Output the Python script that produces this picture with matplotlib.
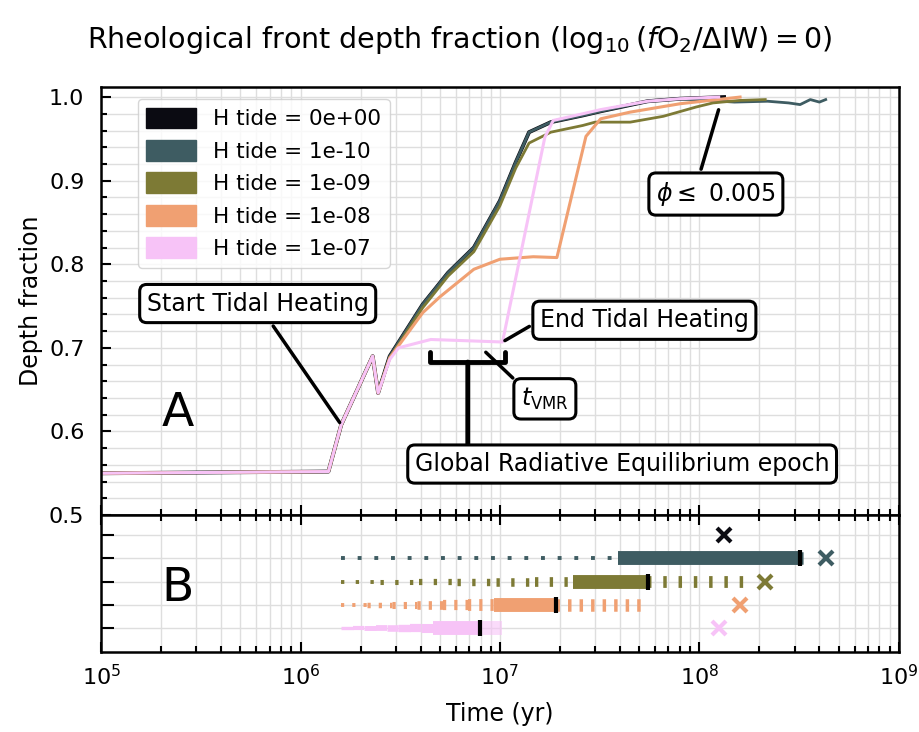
import numpy as np
import matplotlib
matplotlib.use('Agg')
import matplotlib.pyplot as plt
from matplotlib.patches import Patch
from matplotlib.ticker import MultipleLocator, NullFormatter

plt.rcParams['font.family'] = ['DejaVu Sans']
plt.rcParams['lines.scale_dashes'] = False
plt.rcParams['xtick.labelsize'] = 16
plt.rcParams['ytick.labelsize'] = 16

# --- data -----------------------------------------------------------------
labels = ['H tide = 0e+00', 'H tide = 1e-10', 'H tide = 1e-09', 'H tide = 1e-08', 'H tide = 1e-07']
colors = ['#0b0b12', '#3e5c62', '#7d7a35', '#f0a072', '#f7c3f7']

t_h0 = [1e5, 1.38e6, 1.6e6, 2.3e6, 2.45e6, 2.8e6, 4.1e6, 5.5e6, 7.4e6, 1.0e7, 1.2e7,
        1.4e7, 1.8e7, 2.6e7, 3.2e7, 5.5e7, 8.0e7, 1.33e8]
d_h0 = [0.55, 0.552, 0.608, 0.69, 0.646, 0.69, 0.752, 0.79, 0.82, 0.876, 0.922,
        0.958, 0.970, 0.978, 0.983, 0.995, 0.998, 1.0]

t_h10 = t_h0[:-1] + [1.5e8, 2.2e8, 2.8e8, 3.2e8, 3.6e8, 4.0e8, 4.3e8]
d_h10 = d_h0[:-1] + [0.994, 0.995, 0.993, 0.991, 0.997, 0.994, 0.997]

t_h9 = [1e5, 1.38e6, 1.6e6, 2.3e6, 2.45e6, 2.8e6, 4.1e6, 5.5e6, 7.4e6, 1.0e7, 1.2e7,
        1.4e7, 1.8e7, 2.6e7, 3.0e7, 4.5e7, 6.6e7, 9.6e7, 1.17e8, 1.6e8, 2.14e8]
d_h9 = [0.55, 0.552, 0.608, 0.69, 0.646, 0.688, 0.748, 0.786, 0.815, 0.87, 0.915,
        0.945, 0.958, 0.966, 0.970, 0.970, 0.977, 0.988, 0.993, 0.996, 0.997]

t_h8 = [1e5, 1.38e6, 1.6e6, 2.3e6, 2.45e6, 2.8e6, 4.1e6, 5.0e6, 7.4e6, 1.0e7, 1.47e7,
        1.93e7, 2.7e7, 3.2e7, 4.5e7, 8.0e7, 1.6e8]
d_h8 = [0.55, 0.552, 0.608, 0.69, 0.646, 0.688, 0.742, 0.761, 0.794, 0.806, 0.809,
        0.808, 0.953, 0.974, 0.982, 0.992, 1.0]

t_h7 = [1e5, 1.38e6, 1.6e6, 2.3e6, 2.45e6, 2.8e6, 3.1e6, 4.5e6, 1.03e7, 1.68e7, 1.85e7,
        2.6e7, 3.2e7, 5.5e7, 8.0e7, 1.25e8]
d_h7 = [0.55, 0.552, 0.608, 0.69, 0.646, 0.686, 0.700, 0.710, 0.707, 0.952, 0.972,
        0.980, 0.985, 0.995, 0.998, 1.0]

curves_t = [t_h0, t_h10, t_h9, t_h8, t_h7]
curves_d = [d_h0, d_h10, d_h9, d_h8, d_h7]

# panel B: rows for 1e-10, 1e-09, 1e-08, 1e-07
row_pos = [3, 2, 1, 0]
row_colors = colors[1:]
tidal_start = [1.6e6, 1.6e6, 1.6e6, 1.6e6]
gre_start = [3.9e7, 2.33e7, 9.3e6, 4.6e6]
t_vmr = [3.2e8, 5.5e7, 1.9e7, 7.9e6]
post_end = [3.45e8, 1.78e8, 5.3e7, 1.02e7]
end_time = [1.33e8, 4.3e8, 2.14e8, 1.6e8, 1.25e8]   # all five runs
end_pos = [4, 3, 2, 1, 0]

# --- figure ---------------------------------------------------------------
fig = plt.figure(figsize=(9.19, 7.32), dpi=100)
ax1 = fig.add_axes([0.110, 0.2964, 0.868, 0.5847])
ax2 = fig.add_axes([0.110, 0.1093, 0.868, 0.1871], sharex=ax1)

for ax in (ax1, ax2):
    ax.set_xscale('log')
    ax.set_xlim(1e5, 1e9)
    for s in ax.spines.values():
        s.set_linewidth(1.8)
    ax.grid(True, which='both', color='#dedede', lw=1.0)
    ax.set_axisbelow(True)

# top panel curves
for t, d, c, lw in zip(curves_t, curves_d, colors, [2.8, 2.0, 2.0, 2.2, 2.2]):
    ax1.plot(t, d, color=c, lw=lw)

ax1.set_ylim(0.5, 1.012)
ax1.yaxis.set_major_locator(MultipleLocator(0.1))
ax1.yaxis.set_minor_locator(MultipleLocator(0.02))
ax1.tick_params(which='both', direction='in', top=False, right=False,
                labelbottom=False, width=1.5)
ax1.tick_params(axis='y', pad=12)
ax1.tick_params(which='major', length=7)
ax1.tick_params(which='minor', length=4)
ax1.set_ylabel('Depth fraction', fontsize=17)

handles = [Patch(facecolor=c, edgecolor=c, label=l) for c, l in zip(colors, labels)]
ax1.legend(handles=handles, loc='upper left', bbox_to_anchor=(0.046, 0.972),
           borderaxespad=0, fontsize=15.5, handlelength=2.3, handleheight=1.1,
           labelspacing=0.5, edgecolor='#cccccc')

box = dict(boxstyle='round,pad=0.3', fc='white', ec='black', lw=2.2)
line = dict(arrowstyle='-', color='black', lw=2.5)
ax1.annotate('Start Tidal Heating', xy=(1.6e6, 0.608), xytext=(6.1e5, 0.753),
             ha='center', va='center', fontsize=17, bbox=box, arrowprops=line)
ax1.annotate('End Tidal Heating', xy=(1.03e7, 0.707), xytext=(5.3e7, 0.733),
             ha='center', va='center', fontsize=17, bbox=box,
             arrowprops=dict(line, relpos=(0, 0.5)))
ax1.annotate(r'$t_{\mathrm{VMR}}$', xy=(8.3e6, 0.697), xytext=(1.68e7, 0.639),
             ha='center', va='center', fontsize=17, bbox=box,
             arrowprops=dict(line, relpos=(0, 1)))
ax1.annotate(r'$\phi\leq$ 0.005', xy=(1.26e8, 0.988), xytext=(1.21e8, 0.884),
             ha='center', va='center', fontsize=17, bbox=box,
             arrowprops=dict(line, relpos=(0.35, 1)))
# bracket over the epoch of the 1e-07 run, stem down to the label
ax1.annotate('', xy=(6.9e6, 0.683), xytext=(6.9e6, 0.584),
             arrowprops=dict(arrowstyle='-[, widthB=2.7, lengthB=0.7', color='black',
                             lw=3.5, shrinkA=0, shrinkB=0, mutation_scale=10))
ax1.text(4.1e7, 0.561, 'Global Radiative Equilibrium epoch', ha='center', va='center',
         fontsize=17, bbox=box)
ax1.text(0.096, 0.238, 'A', transform=ax1.transAxes, fontsize=34, ha='center', va='center')

# bottom panel
def segment(ax, t0, t1, y, color, lw0, lw1, dashes=None, pieces=1, alpha=1.0):
    edges = np.geomspace(t0, t1, pieces + 1)
    widths = np.linspace(lw0, lw1, pieces)
    for a, b, w in zip(edges[:-1], edges[1:], widths):
        ln, = ax.plot([a, b], [y, y], color=color, lw=w, alpha=alpha,
                      solid_capstyle='butt', dash_capstyle='butt')
        if dashes:
            ln.set_dashes(dashes)

lead_style = [(2.8, 2.8, (2.8, 9.2), 1), (2.8, 7.0, (2.4, 8.2), 6),
              (2.8, 8.5, (2.3, 5.8), 6), (2.4, 6.5, None, 8)]
post_style = [(9.0, (2.2, 8.0)), (8.5, (2.5, 8.5)), (9.0, (2.5, 5.8)), (10.0, None)]

for i, y in enumerate(row_pos):
    c = row_colors[i]
    lw0, lw1, dsh, n = lead_style[i]
    segment(ax2, tidal_start[i], gre_start[i], y, c, lw0, lw1, dsh, n)
    segment(ax2, gre_start[i], t_vmr[i], y, c, 10, 10)
    pw, pd = post_style[i]
    segment(ax2, t_vmr[i], post_end[i], y, c, pw, pw, pd, alpha=0.6 if pd is None else 1.0)
    ax2.plot([t_vmr[i]], [y], marker='|', ms=12, mew=3, color='black')

for t, y, c in zip(end_time, end_pos, colors):
    ax2.plot([t], [y], marker='x', ms=10, mew=3, color=c, ls='none')

ax2.set_ylim(-1.03, 4.86)
ax2.set_yticks([0, 1, 2, 3, 4])
ax2.yaxis.set_major_formatter(NullFormatter())
ax2.tick_params(which='both', direction='in', top=True, right=False, width=1.5)
ax2.tick_params(axis='x', which='major', length=7, pad=9)
ax2.tick_params(axis='x', which='minor', length=4)
ax2.tick_params(axis='y', which='major', length=9)
ax2.set_xlabel('Time (yr)', fontsize=17, labelpad=9)
ax2.text(0.096, 0.467, 'B', transform=ax2.transAxes, fontsize=34, ha='center', va='center')

fig.text(0.5, 0.945, r'Rheological front depth fraction ($\log_{10}(f\mathrm{O_2}/\Delta\mathrm{IW}) = 0$)',
         ha='center', va='center', fontsize=20.5)

fig.savefig('out.png', dpi=100)
